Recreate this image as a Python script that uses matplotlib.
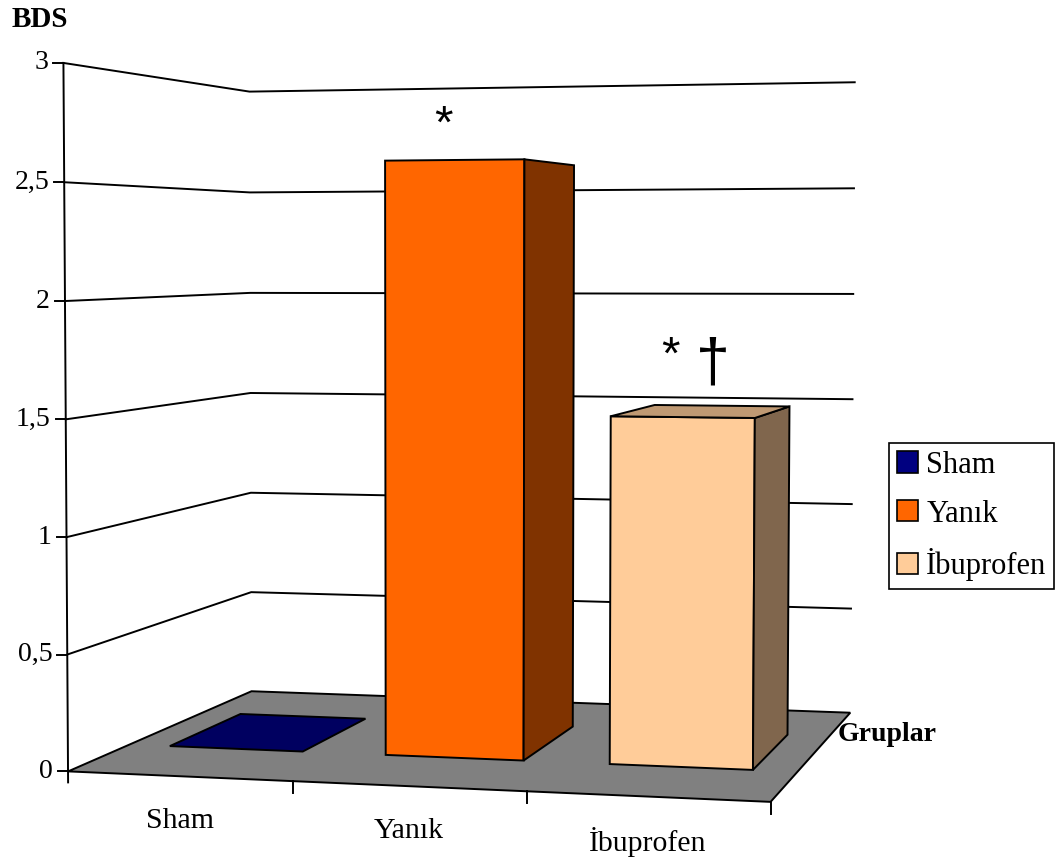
import numpy as np
import matplotlib.pyplot as plt
from matplotlib.patches import Polygon, Patch

groups = ['Sham', 'Yanık', 'İbuprofen']
values = [0.0, 2.6, 1.5]
bar_colors = ['#000080', '#FF6600', '#FFCC99']
y_ticks = [0, 0.5, 1, 1.5, 2, 2.5, 3]
y_labels = ['0', '0,5', '1', '1,5', '2', '2,5', '3']
y_title = 'BDS'
x_title = 'Gruplar'

# significance marks: (group index, text, fontsize, dx, dy) offsets in px from bar top
marks = [
    (1, '*', 34, -11, -22),
    (2, '*', 34, -12, -48),
    (2, '†', 44, 31, -37),
]

SERIF = 'Liberation Serif'
SANS = 'Liberation Sans'
LW = 1.4

# view calibration: (category pos, depth, value) -> pixel of the chart frame
frame_pts = [
    ((0, 0, 0), (69, 772)),
    ((0, 0, 3), (63, 63)),
    ((0, 1, 0), (252, 691)),
    ((0, 1, 3), (250, 92)),
    ((3, 1, 0), (850, 713)),
    ((3, 1, 3), (855, 83)),
    ((3, 0, 0), (770, 802)),
    ((1, 0, 0), (293, 782)),
    ((2, 0, 0), (527, 791)),
    ((0, 1, 1.5), (249, 393)),
    ((3, 1, 1.5), (853, 398)),
    ((0, 0, 1.5), (66, 418)),
]


def fit_camera(pairs):
    '''DLT fit of a 3x4 projection matrix'''
    rows = []
    for (X, Y, Z), (u, v) in pairs:
        u, v = u / 1000.0, v / 1000.0
        rows.append([X, Y, Z, 1, 0, 0, 0, 0, -u * X, -u * Y, -u * Z, -u])
        rows.append([0, 0, 0, 0, X, Y, Z, 1, -v * X, -v * Y, -v * Z, -v])
    _, _, vt = np.linalg.svd(np.array(rows, float))
    P = vt[-1].reshape(3, 4)
    P[:2] *= 1000.0
    return P


P = fit_camera(frame_pts)
_, _, vt = np.linalg.svd(P)
cam = vt[-1][:3] / vt[-1][3]


def proj(x, y, z):
    h = P @ np.array([x, y, z, 1.0])
    return h[0] / h[2], h[1] / h[2]


def shade(color, k):
    r, g, b = plt.matplotlib.colors.to_rgb(color)
    return (r * k, g * k, b * k)


n_cat = len(groups)
z_max = y_ticks[-1]
bar_w = 0.62
depth0, depth1 = 0.3, 0.7

fig = plt.figure(figsize=(10.64, 8.63), dpi=100)
ax = fig.add_axes([0, 0, 1, 1])
ax.set_xlim(0, 1064)
ax.set_ylim(863, 0)
ax.axis('off')

# gridlines on the left and back walls
for t in y_ticks[1:]:
    pts = [proj(0, 0, t), proj(0, 1, t), proj(n_cat, 1, t)]
    ax.plot([p[0] for p in pts], [p[1] for p in pts], color='black', lw=LW, zorder=1)

# floor
floor = [proj(0, 0, 0), proj(n_cat, 0, 0), proj(n_cat, 1, 0), proj(0, 1, 0)]
ax.add_patch(Polygon(floor, closed=True, fc='#808080', ec='black', lw=LW, zorder=2))

# bars
for i, (val, col) in enumerate(zip(values, bar_colors)):
    x0, x1 = i + 0.5 - bar_w / 2, i + 0.5 + bar_w / 2
    y0, y1 = depth0, depth1
    z0, z1 = 0.0, val
    faces = [
        ([(x0, y0, z0), (x1, y0, z0), (x1, y0, z1), (x0, y0, z1)], (0, -1, 0), 1.0),
        ([(x0, y1, z0), (x1, y1, z0), (x1, y1, z1), (x0, y1, z1)], (0, 1, 0), 1.0),
        ([(x0, y0, z0), (x0, y1, z0), (x0, y1, z1), (x0, y0, z1)], (-1, 0, 0), 0.5),
        ([(x1, y0, z0), (x1, y1, z0), (x1, y1, z1), (x1, y0, z1)], (1, 0, 0), 0.5),
        ([(x0, y0, z1), (x1, y0, z1), (x1, y1, z1), (x0, y1, z1)], (0, 0, 1), 0.75),
    ]
    for corners, normal, k in faces:
        if z1 == z0 and normal[2] == 0:
            continue
        if np.dot(cam - np.array(corners[0]), normal) <= 0:
            continue
        poly = [proj(*c) for c in corners]
        ax.add_patch(Polygon(poly, closed=True, fc=shade(col, k), ec='black',
                             lw=LW, joinstyle='miter', zorder=3 + i))

# value axis
ax_bot = proj(0, 0, 0)
ax_top = proj(0, 0, z_max)
ax.plot([ax_top[0], ax_bot[0]], [ax_top[1], ax_bot[1] + 11], color='black', lw=LW, zorder=10)
for t, lab in zip(y_ticks, y_labels):
    u, v = proj(0, 0, t)
    ax.plot([u - 10, u], [v, v], color='black', lw=LW, zorder=10)
    ax.text(u - 15, v, lab, ha='right', va='center', fontsize=20, family=SERIF)

# category axis ticks and labels
for k in range(1, n_cat + 1):
    u, v = proj(k, 0, 0)
    ax.plot([u, u], [v, v + 12], color='black', lw=LW, zorder=10)
for i, g in enumerate(groups):
    u, v = proj(i + 0.5, 0, 0)
    ax.text(u, v + 45, g, ha='center', va='center', fontsize=21.5, family=SERIF)

# significance marks
for i, s, fs, dx, dy in marks:
    u, v = proj(i + 0.5, depth0, values[i])
    ax.text(u + dx, v + dy, s, ha='center', va='baseline', fontsize=fs, family=SANS)

ax.text(12, 27, y_title, ha='left', va='baseline', fontsize=21, fontweight='bold', family=SERIF)
ax.text(838, 741, x_title, ha='left', va='baseline', fontsize=20, fontweight='bold', family=SERIF)

handles = [Patch(fc=c, ec='black', lw=1.2) for c in bar_colors]
leg = ax.legend(handles, groups, loc='upper left',
                bbox_to_anchor=(889 / 1064, 1 - 443 / 863), bbox_transform=fig.transFigure,
                prop=dict(family=SERIF, size=22), frameon=True, fancybox=False,
                edgecolor='black', framealpha=1, borderaxespad=0, borderpad=0.25,
                handlelength=0.7, handleheight=0.7, handletextpad=0.27, labelspacing=0.65)
leg.get_frame().set_linewidth(1.2)

fig.savefig('out.png', dpi=100)
